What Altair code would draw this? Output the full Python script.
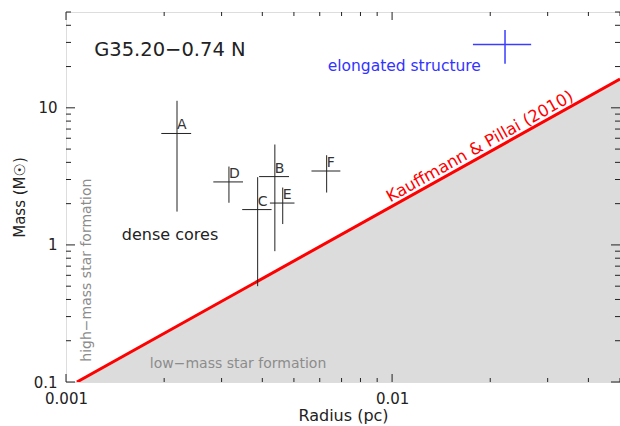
import altair as alt
import pandas as pd

# Dense cores in G35.20-0.74 N: radius (pc), mass (Msun) and their uncertainties
cores = ["A", "B", "C", "D", "E", "F"]
radius = [0.00219, 0.00437, 0.00387, 0.00316, 0.00462, 0.00630]
radius_err = [0.00023, 0.00046, 0.00040, 0.00033, 0.00040, 0.00064]
mass = [6.5, 3.15, 1.81, 2.88, 2.02, 3.46]
mass_err = [4.75, 2.25, 1.31, 0.85, 0.60, 1.05]

# Elongated structure
elong_radius = [0.0222]
elong_radius_err = [0.0045]
elong_mass = [29.0]
elong_mass_err = [8.0]

# Kauffmann & Pillai (2010) threshold, end points inside the plotted range
kp_radius = [0.00108, 0.05]
kp_mass = [0.1, 16.2]

# Axis ticks
x_major = [0.001, 0.01]
x_minor = [0.002, 0.003, 0.004, 0.005, 0.006, 0.007, 0.008, 0.009,
           0.02, 0.03, 0.04, 0.05]
y_major = [0.1, 1, 10]
y_minor = [0.2, 0.3, 0.4, 0.5, 0.6, 0.7, 0.8, 0.9,
           2, 3, 4, 5, 6, 7, 8, 9, 20, 30, 40, 50]

W, H = 554, 370
FONT = "DejaVu Sans"
INK = "#222222"

XS = alt.Scale(type="log", domain=[0.001, 0.05], nice=False)
YS = alt.Scale(type="log", domain=[0.1, 50], nice=False)
XAX = alt.Axis(values=x_major, format="~g", ticks=False, grid=False, domain=False,
               labelFont=FONT, labelFontSize=15, labelColor=INK, labelPadding=9,
               labelFlush=False, labelOverlap=False,
               titleFont=FONT, titleFontSize=16, titleFontWeight="normal",
               titleColor=INK, titleBaseline="alphabetic", titleY=38)
YAX = alt.Axis(values=y_major, format="~g", ticks=False, grid=False, domain=False,
               labelFont=FONT, labelFontSize=15, labelColor=INK, labelPadding=9,
               labelFlush=False, labelOverlap=False,
               titleFont=FONT, titleFontSize=15, titleFontWeight="normal",
               titleColor=INK, titleAngle=270, titleAlign="center",
               titleBaseline="alphabetic", titleX=-42, titleY=H / 2)


def xe(field):
    return alt.X(field, type="quantitative", scale=XS, axis=XAX, title="Radius (pc)")


def ye(field):
    return alt.Y(field, type="quantitative", scale=YS, axis=YAX, title="Mass (M☉)")


core_df = pd.DataFrame({"core": cores, "r": radius, "re": radius_err,
                        "m": mass, "me": mass_err})
core_df["r_lo"] = core_df.r - core_df.re
core_df["r_hi"] = core_df.r + core_df.re
core_df["m_lo"] = core_df.m - core_df.me
core_df["m_hi"] = core_df.m + core_df.me

el_df = pd.DataFrame({"r": elong_radius, "re": elong_radius_err,
                      "m": elong_mass, "me": elong_mass_err})
el_df["r_lo"] = el_df.r - el_df.re
el_df["r_hi"] = el_df.r + el_df.re
el_df["m_lo"] = el_df.m - el_df.me
el_df["m_hi"] = el_df.m + el_df.me

kp_df = pd.DataFrame({"r": kp_radius, "m": kp_mass})

# Low-mass region below the threshold line
area = alt.Chart(kp_df).mark_area(color="#dcdcdc", clip=True).encode(
    x=xe("r"), y=ye("m"), y2=alt.datum(0.1))
kp_line = alt.Chart(kp_df).mark_line(color="#ff0000", strokeWidth=3, clip=True).encode(
    x=xe("r"), y=ye("m"))

# Error crosses
core_h = alt.Chart(core_df).mark_rule(color=INK, strokeWidth=1).encode(
    x=xe("r_lo"), x2="r_hi", y=ye("m"))
core_v = alt.Chart(core_df).mark_rule(color=INK, strokeWidth=1).encode(
    x=xe("r"), y=ye("m_lo"), y2="m_hi")
core_lbl = alt.Chart(core_df).mark_text(
    align="left", baseline="alphabetic", dx=0, dy=-4, font=FONT, fontSize=14,
    color="#333333").encode(x=xe("r"), y=ye("m"), text="core")

el_h = alt.Chart(el_df).mark_rule(color="#3c3cff", strokeWidth=1.5).encode(
    x=xe("r_lo"), x2="r_hi", y=ye("m"))
el_v = alt.Chart(el_df).mark_rule(color="#3c3cff", strokeWidth=1.5).encode(
    x=xe("r"), y=ye("m_lo"), y2="m_hi")

# Text annotations (placed in data coordinates)
notes = [
    dict(t="G35.20−0.74 N", r=0.00122, m=24.0, c=INK, a="left", s=19.5),
    dict(t="elongated structure", r=0.0109, m=18.7, c="#3333ff", a="center", s=15.5),
    dict(t="dense cores", r=0.002085, m=1.08, c=INK, a="center", s=16),
    dict(t="low−mass star formation", r=0.00337, m=0.1265, c="#8c8c8c", a="center", s=14),
]
note_marks = []
for n in notes:
    note_marks.append(
        alt.Chart(pd.DataFrame([{"t": n["t"], "r": n["r"], "m": n["m"]}])).mark_text(
            align=n["a"], baseline="alphabetic", font=FONT, fontSize=n["s"],
            color=n["c"]).encode(x=xe("r"), y=ye("m"), text="t:N"))

high_df = pd.DataFrame({"t": ["high−mass star formation"], "r": [0.00119], "m": [0.655]})
high = alt.Chart(high_df).mark_text(
    align="center", baseline="alphabetic", angle=270, font=FONT, fontSize=14,
    color="#8c8c8c").encode(x=xe("r"), y=ye("m"), text="t:N")

kp_txt_df = pd.DataFrame({"t": ["Kauffmann & Pillai (2010)"], "r": [0.0186], "m": [5.2]})
kp_txt = alt.Chart(kp_txt_df).mark_text(
    align="center", baseline="middle", angle=330.8, font=FONT, fontSize=16.5,
    color="#ff0000").encode(x=xe("r"), y=ye("m"), text="t:N")

# Inward-pointing ticks on all four sides
def xticks(vals, length):
    d = pd.DataFrame({"v": vals})
    bottom = alt.Chart(d).mark_rule(color=INK, strokeWidth=1).encode(
        x=xe("v"), y=alt.value(H), y2=alt.value(H - length))
    top = alt.Chart(d).mark_rule(color=INK, strokeWidth=1).encode(
        x=xe("v"), y=alt.value(0), y2=alt.value(length))
    return [bottom, top]


def yticks(vals, length):
    d = pd.DataFrame({"v": vals})
    left = alt.Chart(d).mark_rule(color=INK, strokeWidth=1).encode(
        y=ye("v"), x=alt.value(0), x2=alt.value(length))
    right = alt.Chart(d).mark_rule(color=INK, strokeWidth=1).encode(
        y=ye("v"), x=alt.value(W), x2=alt.value(W - length))
    return [left, right]


ticks = xticks(x_major, 8) + xticks(x_minor, 4) + yticks(y_major, 9) + yticks(y_minor, 5)

chart = alt.layer(
    area, kp_line, *ticks, core_h, core_v, core_lbl, el_h, el_v,
    *note_marks, high, kp_txt
).properties(
    width=W, height=H,
    autosize=alt.AutoSizeParams(type="none"),
    padding={"left": 66, "top": 12, "right": 0, "bottom": 44},
).configure_view(stroke=INK, strokeWidth=1).configure(background="white")

chart.save("out.html", embed_options={"renderer": "svg", "actions": False})
